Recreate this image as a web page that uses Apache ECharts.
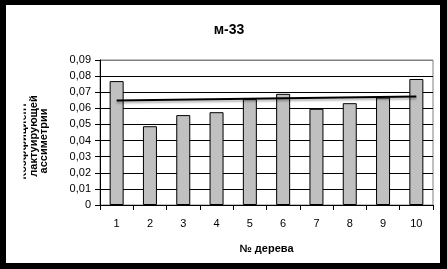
<!DOCTYPE html>
<html>
<head>
<meta charset="utf-8">
<script src="https://cdn.jsdelivr.net/npm/echarts@6/dist/echarts.min.js"></script>
<style>
html,body{margin:0;padding:0;background:#000;}
#c{width:447px;height:269px;}
</style>
</head>
<body>
<div id="c"></div>
<script>
var categories = ['1','2','3','4','5','6','7','8','9','10'];
var values = [0.0769, 0.0489, 0.0558, 0.0576, 0.0657, 0.069, 0.0597, 0.0632, 0.0667, 0.0782];
var trendStart = 0.0649;
var trendEnd = 0.0674;
var yTicks = ['0','0,01','0,02','0,03','0,04','0,05','0,06','0,07','0,08','0,09'];
var titleText = 'м-33';
var xName = '№ дерева';
var yNameLines = ['Коэффициент', 'лактуирующей', 'ассиметрии'];

var trendData = categories.map(function(c, i){
  if (i === 0) return trendStart;
  if (i === categories.length - 1) return trendEnd;
  return '-';
});

var font = '"Liberation Sans", Arial, sans-serif';
var chart = echarts.init(document.getElementById('c'), null, {renderer:'canvas'});
var gridColors = ['#000','#000','#000','#000','#000','#000','#000','#000','#000','#808080'];

chart.setOption({
  backgroundColor: '#000',
  animation: false,
  title: {
    text: titleText, left: 224, top: 18, textAlign: 'center',
    textStyle: {fontFamily: font, fontSize: 14, fontWeight: 'bold', color: '#000'}
  },
  grid: {
    left: 100, right: 14, top: 60, bottom: 64,
    show: true, backgroundColor: '#fff', borderColor: '#808080', borderWidth: 1
  },
  xAxis: {
    type: 'category', data: categories,
    name: xName, nameLocation: 'middle', nameGap: 38,
    nameTextStyle: {fontFamily: font, fontSize: 11, fontWeight: 'bold', color: '#000'},
    axisLine: {lineStyle: {color: '#000', width: 1}},
    axisTick: {show: true, length: 5, interval: 0, lineStyle: {color: '#000'}},
    axisLabel: {fontFamily: font, fontSize: 11, color: '#000', margin: 13, interval: 0}
  },
  yAxis: {
    type: 'value', min: 0, max: 0.09, interval: 0.01,
    axisLine: {show: true, lineStyle: {color: '#000', width: 1}},
    axisTick: {show: true, length: 5, lineStyle: {color: '#000'}},
    axisLabel: {
      fontFamily: font, fontSize: 11, color: '#000', margin: 9,
      formatter: function(v){ return yTicks[Math.round(v * 100)]; }
    },
    splitLine: {show: true, lineStyle: {color: gridColors, width: 1}}
  },
  series: [
    {
      type: 'bar', data: values, barWidth: 14,
      itemStyle: {color: '#c0c0c0', borderColor: '#000', borderWidth: 1}
    },
    {
      type: 'line', data: trendData, connectNulls: true, symbol: 'none', z: 5,
      lineStyle: {color: '#000', width: 2, shadowColor: 'rgba(0,0,0,0.3)', shadowBlur: 2, shadowOffsetY: 2}
    }
  ],
  graphic: [
    {type: 'rect', left: 6, top: 5, shape: {width: 434, height: 258}, style: {fill: '#fff'}, z: -10, silent: true},
    {type: 'text', x: 23, y: 141, rotation: Math.PI/2, z: 10,
     style: {text: yNameLines[0], font: 'bold 11px ' + font, fill: '#000', align: 'center', verticalAlign: 'middle'}},
    {type: 'rect', shape: {x: 6, y: 90, width: 17.5, height: 100}, style: {fill: '#fff'}, z: 11, silent: true},
    {type: 'text', x: 33.5, y: 136, rotation: Math.PI/2, z: 10,
     style: {text: yNameLines[1], font: 'bold 11px ' + font, fill: '#000', align: 'center', verticalAlign: 'middle'}},
    {type: 'text', x: 44, y: 141, rotation: Math.PI/2, z: 10,
     style: {text: yNameLines[2], font: 'bold 11px ' + font, fill: '#000', align: 'center', verticalAlign: 'middle'}}
  ]
});
</script>
</body>
</html>
